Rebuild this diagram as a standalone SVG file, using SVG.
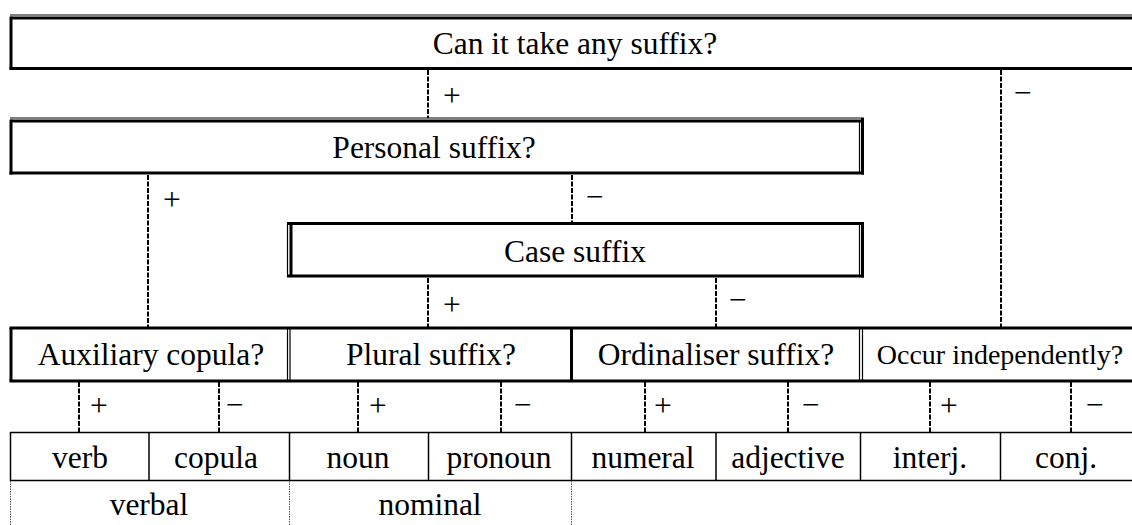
<svg xmlns="http://www.w3.org/2000/svg" width="1132" height="525" viewBox="0 0 1132 525">
<style>
text{font-family:"Liberation Serif","Times New Roman",serif;font-size:31.5px;fill:#000}
.c{text-anchor:middle}
.sm{font-size:28px}
.thick{stroke:#000;stroke-width:3;fill:none}
.thin{stroke:#000;stroke-width:1.2;fill:none}
.dash{stroke:#000;stroke-width:2;stroke-dasharray:5 1.5;fill:none}
.grid{stroke:#000;stroke-width:1.5;fill:none}
.dot{stroke:#555;stroke-width:1;stroke-dasharray:1.5 1;fill:none}
</style>
<rect width="1132" height="525" fill="#fff"/>

<g id="connectors">
<line class="dash" x1="428" y1="70" x2="428" y2="118"/>
<line class="dash" x1="1001" y1="70" x2="1001" y2="327"/>
<line class="dash" x1="148" y1="175" x2="148" y2="327"/>
<line class="dash" x1="572" y1="175" x2="572" y2="222"/>
<line class="dash" x1="428" y1="278" x2="428" y2="327"/>
<line class="dash" x1="716" y1="278" x2="716" y2="327"/>
<line class="dash" x1="79" y1="382" x2="79" y2="432"/>
<line class="dash" x1="219" y1="382" x2="219" y2="432"/>
<line class="dash" x1="358" y1="382" x2="358" y2="432"/>
<line class="dash" x1="501" y1="382" x2="501" y2="432"/>
<line class="dash" x1="645" y1="382" x2="645" y2="432"/>
<line class="dash" x1="788" y1="382" x2="788" y2="432"/>
<line class="dash" x1="930" y1="382" x2="930" y2="432"/>
<line class="dash" x1="1071" y1="382" x2="1071" y2="432"/>
</g>

<g id="signs">
<text x="443" y="106">+</text>
<text x="1014" y="103">−</text>
<text x="163" y="210">+</text>
<text x="586" y="207">−</text>
<text x="443" y="315">+</text>
<text x="729" y="310">−</text>
<text x="90" y="416">+</text>
<text x="226" y="415">−</text>
<text x="369" y="416">+</text>
<text x="514" y="415">−</text>
<text x="654" y="416">+</text>
<text x="802" y="415">−</text>
<text x="940" y="416">+</text>
<text x="1086" y="415">−</text>
</g>

<g id="q-any-suffix">
<line class="thin" x1="10" y1="15" x2="1132" y2="15"/>
<line class="thick" x1="11" y1="18" x2="1132" y2="18"/>
<line class="thick" x1="11" y1="16.5" x2="11" y2="69.5"/>
<line class="thick" x1="9.5" y1="68.5" x2="1132" y2="68.5"/>
<text class="c" x="575" y="54">Can it take any suffix?</text>
</g>

<g id="q-personal">
<line class="thin" x1="10" y1="118" x2="864" y2="118"/>
<line class="thick" x1="11" y1="121" x2="864" y2="121"/>
<line class="thick" x1="11" y1="119.5" x2="11" y2="174.5"/>
<line class="thick" x1="9.5" y1="173" x2="864" y2="173"/>
<line class="thin" x1="859.5" y1="121" x2="859.5" y2="173"/>
<line class="thick" x1="862.5" y1="118" x2="862.5" y2="174.5"/>
<text class="c" x="434" y="158">Personal suffix?</text>
</g>

<g id="q-case">
<line class="thick" x1="287" y1="223.5" x2="864" y2="223.5"/>
<line class="thick" x1="287" y1="276" x2="864" y2="276"/>
<line class="thin" x1="287.5" y1="223" x2="287.5" y2="277"/>
<line class="thick" x1="291" y1="223" x2="291" y2="277"/>
<line class="thin" x1="859.5" y1="223" x2="859.5" y2="277"/>
<line class="thick" x1="862.5" y1="222" x2="862.5" y2="277.5"/>
<text class="c" x="575" y="262">Case suffix</text>
</g>

<g id="row-questions">
<line class="thick" x1="9.5" y1="328" x2="1132" y2="328"/>
<line class="thick" x1="9.5" y1="381" x2="1132" y2="381"/>
<line class="thick" x1="11" y1="328" x2="11" y2="381"/>
</g>
<g id="q-auxiliary">
<line class="thin" x1="287.5" y1="329" x2="287.5" y2="380"/>
<text class="c" x="151" y="365">Auxiliary copula?</text>
</g>
<g id="q-plural">
<line class="thin" x1="290" y1="329" x2="290" y2="380"/>
<line class="thick" x1="571.5" y1="328" x2="571.5" y2="381"/>
<text class="c" x="431" y="365">Plural suffix?</text>
</g>
<g id="q-ordinaliser">
<line class="thin" x1="859.5" y1="329" x2="859.5" y2="380"/>
<text class="c" x="716" y="365">Ordinaliser suffix?</text>
</g>
<g id="q-occur">
<line class="thin" x1="862.5" y1="329" x2="862.5" y2="380"/>
<text class="c sm" x="1000" y="364">Occur independently?</text>
</g>

<g id="leaves">
<line class="grid" x1="10" y1="432.5" x2="1132" y2="432.5"/>
<line class="grid" x1="10" y1="480.5" x2="1132" y2="480.5"/>
<line class="grid" x1="10.5" y1="432" x2="10.5" y2="481"/>
<line class="grid" x1="149" y1="432" x2="149" y2="481"/>
<line class="grid" x1="289.5" y1="432" x2="289.5" y2="481"/>
<line class="grid" x1="428.5" y1="432" x2="428.5" y2="481"/>
<line class="grid" x1="571.5" y1="432" x2="571.5" y2="481"/>
<line class="grid" x1="716" y1="432" x2="716" y2="481"/>
<line class="grid" x1="860.5" y1="432" x2="860.5" y2="481"/>
<line class="grid" x1="1000.5" y1="432" x2="1000.5" y2="481"/>
</g>
<g id="leaf-verb"><text class="c" x="80" y="468">verb</text></g>
<g id="leaf-copula"><text class="c" x="216" y="468">copula</text></g>
<g id="leaf-noun"><text class="c" x="358" y="468">noun</text></g>
<g id="leaf-pronoun"><text class="c" x="499" y="468">pronoun</text></g>
<g id="leaf-numeral"><text class="c" x="643" y="468">numeral</text></g>
<g id="leaf-adjective"><text class="c" x="788" y="468">adjective</text></g>
<g id="leaf-interj"><text class="c" x="930" y="468">interj.</text></g>
<g id="leaf-conj"><text class="c" x="1066" y="468">conj.</text></g>

<g id="groups">
<line class="dot" x1="10.5" y1="481" x2="10.5" y2="525"/>
<line class="dot" x1="289.5" y1="481" x2="289.5" y2="525"/>
<line class="dot" x1="571.5" y1="481" x2="571.5" y2="525"/>
</g>
<g id="group-verbal"><text class="c" x="149" y="515">verbal</text></g>
<g id="group-nominal"><text class="c" x="430" y="515">nominal</text></g>
</svg>
